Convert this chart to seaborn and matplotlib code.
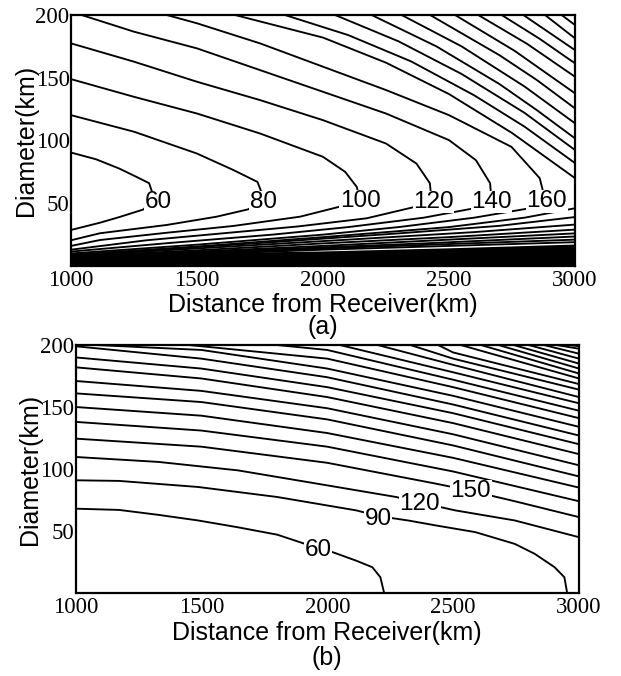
import matplotlib
matplotlib.use("Agg")
import matplotlib.pyplot as plt
import numpy as np
import pandas as pd
import seaborn as sns

# ---------------- Panel (a) data ----------------
# contour lines as polylines (x = distance km, y = diameter km)
A_LINE_LEVEL = [60, 80, 100, 120, 140, 160,
                180, 200, 220, 240, 260, 280, 300, 320, 340, 360, 380, 400,
                180, 200, 220, 240, 260, 280, 300, 320]
A_LINE_X = [
    [1000, 1100, 1192, 1260, 1310, 1330, 1287, 1192, 1115, 1000],
    [1000, 1250, 1500, 1644, 1740, 1765, 1704, 1578, 1380, 1115, 1000],
    [1000, 1250, 1500, 1750, 2000, 2088, 2134, 2145, 2067, 1909, 1644, 1380, 1115, 1000],
    [1000, 1250, 1500, 1750, 2000, 2250, 2371, 2424, 2430, 2358, 2173, 1900, 1600, 1300, 1000],
    [1042, 1250, 1500, 1750, 2000, 2250, 2500, 2607, 2663, 2668, 2600, 2400, 2100, 1800, 1400, 1000],
    [1380, 1500, 1750, 2000, 2250, 2500, 2748, 2860, 2880, 2820, 2600, 2300, 2000, 1500, 1000],
    [1651, 2000, 2250, 2500, 2750, 3000],
    [1849, 2100, 2350, 2600, 2800, 3000],
    [2048, 2300, 2550, 2800, 3000],
    [2193, 2450, 2700, 2850, 3000],
    [2312, 2550, 2800, 3000],
    [2425, 2700, 2850, 3000],
    [2524, 2760, 3000],
    [2616, 2810, 3000],
    [2709, 2860, 3000],
    [2795, 3000],
    [2881, 3000],
    [2947, 3000],
    [3000, 2800, 2500, 2000, 1500, 1000],
    [3000, 2700, 2300, 1800, 1300, 1000],
    [3000, 2600, 2100, 1500, 1000],
    [3000, 2500, 2000, 1500, 1000],
    [3000, 2500, 2000, 1000],
    [3000, 2400, 1700, 1000],
    [3000, 2000, 1000],
    [3000, 2000, 1000],
]
A_LINE_Y = [
    [90.4, 85, 77.6, 71, 66, 54, 45, 39, 34.5, 28.7],
    [120.2, 107, 89.6, 76.5, 67, 54, 45.2, 39.3, 32.7, 26.1, 20.5],
    [148.9, 134.8, 121.5, 105.6, 87, 75, 63, 54, 47.3, 39.3, 31.9, 26.5, 20.7, 16],
    [177.4, 162.8, 146.8, 132.2, 116.2, 97.6, 81.6, 66, 54, 46.8, 38, 31.5, 26, 20.5, 13],
    [200, 186.7, 173.4, 156.1, 138.8, 121.5, 100.3, 84.3, 66, 54, 46, 38.5, 31, 25, 18.5, 11.5],
    [200, 193.4, 177.4, 158.8, 140.2, 120.2, 94.9, 70, 54, 46, 38.5, 31, 25, 17, 10],
    [200, 182, 162, 137, 106, 70],
    [200, 184, 163, 136, 111, 82],
    [200, 179, 153, 122, 92.4],
    [200, 175, 145, 124, 101.7],
    [200, 175, 143, 113.7],
    [200, 168, 148, 125.6],
    [200, 171.5, 137.6],
    [200, 177, 150.8],
    [200, 181, 161.5],
    [200, 172],
    [200, 181.4],
    [200, 192],
    [46, 38.5, 31, 23, 15.5, 9],
    [39, 32, 26, 19, 12.5, 8.5],
    [33, 27, 21, 14, 8],
    [29, 23, 18, 12.5, 7.5],
    [26, 21, 16, 7],
    [23.5, 18, 12.5, 6.5],
    [21, 14, 6],
    [19, 13, 5.5],
]
# solid dark band of crowded contours near the bottom
A_BAND_X = [1000, 1500, 2000, 2500, 3000]
A_BAND_TOP = [9, 10.5, 12, 14.5, 17.5]
A_LABEL_TEXT = ["60", "80", "100", "120", "140", "160"]
A_LABEL_X = [1346, 1763, 2147, 2438, 2669, 2888]
A_LABEL_Y = [51, 51, 51.5, 51, 51, 51.5]

# ---------------- Panel (b) data ----------------
B_LINE_LEVEL = [60, 90, 120, 150, 180, 210, 240, 270, 300, 330, 360,
                390, 420, 450, 480, 510, 540, 570, 600, 630, 660, 690,
                720, 750, 780, 810]
B_LINE_X = [
    [1000, 1173, 1330, 1487, 1645, 1802, 1912, 2022, 2116, 2179, 2211, 2226],
    [1000, 1173, 1487, 1802, 2116, 2203, 2321, 2431, 2588, 2745, 2824, 2903, 2942, 2953],
    [1000, 1330, 1645, 1959, 2274, 2368, 2509, 2745, 3000],
    [1000, 1500, 2000, 2431, 2557, 2745, 3000],
    [1000, 1500, 2000, 2500, 3000],
    [1000, 1500, 2000, 2500, 3000],
    [1000, 1500, 2000, 2500, 3000],
    [1000, 1500, 2000, 2500, 3000],
    [1000, 1500, 2000, 2500, 3000],
    [1000, 1500, 2000, 2500, 3000],
    [1000, 1500, 2000, 2500, 3000],
    [1080, 1500, 2000, 2500, 3000],
    [1450, 2000, 2500, 3000],
    [1800, 2000, 2500, 3000],
    [2050, 2500, 3000],
    [2200, 2500, 3000],
    [2330, 2500, 3000],
    [2440, 2500, 3000],
    [2530, 3000],
    [2610, 3000],
    [2680, 3000],
    [2740, 3000],
    [2800, 3000],
    [2860, 3000],
    [2910, 3000],
    [2960, 3000],
]
B_LINE_Y = [
    [68, 67, 63, 58.5, 53, 47, 39.6, 32.9, 26, 20.8, 12.7, 0],
    [90.9, 90.4, 85.5, 77.4, 66.6, 62, 58.5, 54.5, 49.1, 39.6, 31.6, 20.8, 12.7, 0],
    [109.7, 105.7, 98.9, 88.2, 77.4, 73, 66.6, 58.5, 45],
    [124.5, 118, 105, 88.2, 83, 74, 61.2],
    [138, 131, 118, 98, 74],
    [150, 143, 129, 109, 85],
    [161, 154, 140, 119, 94],
    [171, 163, 149, 128, 103],
    [182, 173, 158, 137, 112],
    [190, 181, 166, 145, 120],
    [199, 189, 174, 152, 127],
    [200, 196, 181, 159, 134],
    [200, 189, 166, 141],
    [200, 196, 172, 147],
    [200, 178, 153],
    [200, 184, 158],
    [200, 189, 164],
    [200, 194, 168.5],
    [200, 173],
    [200, 177],
    [200, 181],
    [200, 185],
    [200, 189],
    [200, 193],
    [200, 197],
    [200, 199],
]
B_LABEL_TEXT = ["60", "90", "120", "150"]
B_LABEL_X = [1965, 2203, 2368, 2570]
B_LABEL_Y = [35, 60, 72, 82]

X_TICKS = [1000, 1500, 2000, 2500, 3000]
Y_TICKS = [50, 100, 150, 200]


def lines_frame(xs, ys):
    rows = []
    for i, (lx, ly) in enumerate(zip(xs, ys)):
        for j, (x, y) in enumerate(zip(lx, ly)):
            rows.append({"seg": i, "order": j, "x": x, "y": y})
    return pd.DataFrame(rows)


sns.set_style("white")
plt.rcParams["font.family"] = ["Liberation Sans", "DejaVu Sans"]
plt.rcParams["text.color"] = "black"
plt.rcParams["axes.labelcolor"] = "black"
plt.rcParams["xtick.color"] = "black"
plt.rcParams["ytick.color"] = "black"

fig = plt.figure(figsize=(6.21, 6.76), dpi=100)
ax_a = fig.add_axes([71 / 621, 1 - 266 / 676, 504 / 621, 251 / 676])
ax_b = fig.add_axes([75.5 / 621, 1 - 593 / 676, 503.5 / 621, 248 / 676])

LW = 1.35

# panel (a)
ax_a.fill_between(A_BAND_X, 0, A_BAND_TOP, color="black", lw=0, zorder=1)
sns.lineplot(data=lines_frame(A_LINE_X, A_LINE_Y), x="x", y="y", units="seg",
             estimator=None, sort=False, color="black", linewidth=LW,
             legend=False, ax=ax_a)
for t, x, y in zip(A_LABEL_TEXT, A_LABEL_X, A_LABEL_Y):
    ax_a.text(x, y, t, ha="center", va="center", fontsize=17.5, zorder=5,
              color="black",
              bbox=dict(facecolor="white", edgecolor="none", pad=0.4))

# panel (b)
sns.lineplot(data=lines_frame(B_LINE_X, B_LINE_Y), x="x", y="y", units="seg",
             estimator=None, sort=False, color="black", linewidth=LW,
             legend=False, ax=ax_b)
for t, x, y in zip(B_LABEL_TEXT, B_LABEL_X, B_LABEL_Y):
    ax_b.text(x, y, t, ha="center", va="center", fontsize=17.5, zorder=5,
              color="black",
              bbox=dict(facecolor="white", edgecolor="none", pad=0.4))

for ax, tag, xl_y, tag_y in [(ax_a, "(a)", -0.155, -0.243),
                             (ax_b, "(b)", -0.161, -0.262)]:
    ax.set_xlim(1000, 3000)
    ax.set_ylim(0, 200)
    ax.set_xticks(X_TICKS)
    ax.set_yticks(Y_TICKS)
    ax.set_xticklabels([str(v) for v in X_TICKS], family="Liberation Serif",
                       fontsize=16.5, color="black")
    ax.set_yticklabels([str(v) for v in Y_TICKS], family="Liberation Serif",
                       fontsize=16.5, color="black")
    ax.tick_params(direction="in", length=4, width=1.2, color="black",
                   pad=3)
    ax.tick_params(axis="y", pad=1)
    for s in ax.spines.values():
        s.set_visible(True)
        s.set_color("black")
        s.set_linewidth(1.6)
    ax.set_xlabel("Distance from Receiver(km)", fontsize=18, color="black")
    ax.xaxis.set_label_coords(0.5, xl_y)
    ax.xaxis.label.set_va("center")
    ax.set_ylabel("Diameter(km)", fontsize=18, color="black")
    ax.yaxis.set_label_coords(-0.09, 0.5)
    ax.yaxis.label.set_va("center")
    ax.text(0.5, tag_y, tag, transform=ax.transAxes, ha="center", va="center",
            fontsize=18, color="black")

fig.savefig("out.png", dpi=100)
